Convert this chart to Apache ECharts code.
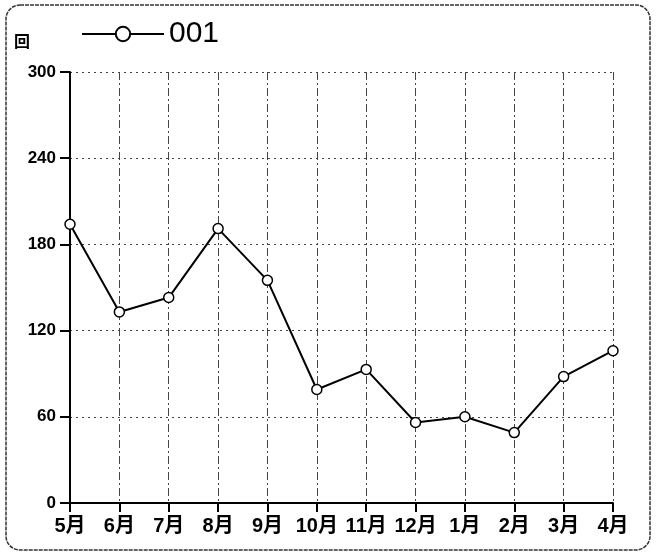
<!DOCTYPE html>
<html>
<head>
    <meta charset="utf-8">
    <title>001</title>
    <script src="https://cdn.jsdelivr.net/npm/echarts@6/dist/echarts.min.js"></script>
    <style>
        html, body { margin: 0; padding: 0; background: #ffffff; }
        #chart { width: 657px; height: 557px; }
    </style>
</head>
<body>
<div id="chart"></div>
<script>
    var months = ['5月', '6月', '7月', '8月', '9月', '10月', '11月', '12月', '1月', '2月', '3月', '4月'];
    var counts = [194, 133, 143, 191, 155, 79, 93, 56, 60, 49, 88, 106];
    var seriesName = '001';
    var unitLabel = '回';

    var font = '"Liberation Sans Narrow", "Liberation Sans", "Noto Sans CJK JP", sans-serif';
    var chart = echarts.init(document.getElementById('chart'));

    chart.setOption({
        animation: false,
        graphic: [{
            type: 'rect',
            shape: { x: 6, y: 5, width: 644, height: 545, r: 14 },
            style: { fill: 'none', stroke: '#333', lineWidth: 1.5, lineDash: [4, 1] }
        }],
        legend: {
            data: [seriesName],
            left: 76,
            top: 14,
            itemWidth: 82,
            itemHeight: 18,
            itemGap: 8,
            textStyle: { fontFamily: font, fontSize: 30, color: '#000' }
        },
        grid: { left: 70, right: 44, top: 72, bottom: 54 },
        xAxis: {
            type: 'category',
            data: months,
            boundaryGap: false,
            axisLine: { lineStyle: { color: '#000', width: 2 } },
            axisTick: { show: true, interval: 0, length: 9, lineStyle: { color: '#000', width: 2 } },
            axisLabel: { interval: 0, color: '#000', fontFamily: font, fontSize: 20, fontWeight: 'bold', margin: 13 },
            splitLine: { show: true, interval: 0, lineStyle: { color: '#444', width: 1, type: [8, 3, 2, 3] } }
        },
        yAxis: {
            type: 'value',
            min: 0,
            max: 300,
            interval: 60,
            name: unitLabel,
            nameLocation: 'end',
            nameGap: 21,
            nameTextStyle: { color: '#000', fontFamily: font, fontSize: 16, fontWeight: 'bold', align: 'right', padding: [0, 40, 0, 0] },
            axisLine: { show: true, lineStyle: { color: '#000', width: 2 } },
            axisTick: { show: true, length: 10, lineStyle: { color: '#000', width: 2 } },
            axisLabel: { color: '#000', fontFamily: font, fontSize: 17, fontWeight: 'bold', margin: 14 },
            splitLine: { show: true, lineStyle: { color: '#444', width: 1, type: [2, 4] } }
        },
        series: [{
            name: seriesName,
            type: 'line',
            data: counts,
            symbol: 'circle',
            symbolSize: 10,
            lineStyle: { color: '#000', width: 2 },
            itemStyle: { color: '#fff', borderColor: '#000', borderWidth: 1.5 }
        }]
    });
</script>
</body>
</html>
